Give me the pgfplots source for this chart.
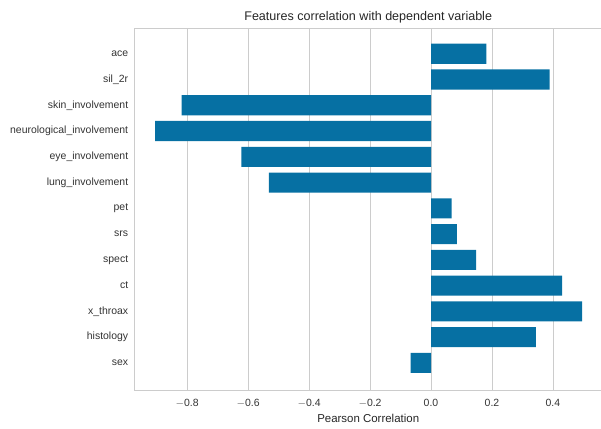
\documentclass[border=0pt]{standalone}
\usepackage{pgfplots}
\pgfplotsset{compat=1.18}
\usepackage{fontspec}
\setmainfont{Liberation Sans}
\definecolor{barblue}{RGB}{6,112,163}
\definecolor{gridgray}{RGB}{204,204,204}
\begin{document}
\begin{tikzpicture}[x=1bp,y=1bp]
\useasboundingbox (0,0) rectangle (601,428);
\begin{axis}[
  at={(134.7bp,400bp)}, anchor=north west,
  scale only axis,
  width=467bp, height=362.7bp,
  xbar, bar width=0.78, bar shift=0pt,
  xmin=-0.972, xmax=0.560,
  ymin=-1.08, ymax=13.0,
  axis line style={gridgray, line width=0.8bp},
  xmajorgrids, grid style={gridgray, line width=0.8bp},
  major tick length=0pt,
  xtick={-0.8,-0.6,-0.4,-0.2,0.0,0.2,0.4},
  xticklabels={$-$0.8,$-$0.6,$-$0.4,$-$0.2,0.0,0.2,0.4},
  ytick={0,...,12},
  yticklabels={sex,histology,x\_throax,ct,spect,srs,pet,lung\_involvement,eye\_involvement,neurological\_involvement,skin\_involvement,sil\_2r,ace},
  ticklabel style={font=\fontsize{10.5}{12}\selectfont, text=black!80},
  /pgf/number format/assume math mode=true,
  xticklabel style={yshift=-5bp},
  yticklabel style={xshift=-3bp},
  xlabel={Pearson Correlation},
  xlabel style={font=\fontsize{11.5}{13}\selectfont, text=black!85, yshift=0bp},
  title={Features correlation with dependent variable},
  title style={font=\fontsize{12.6}{14}\selectfont, text=black!85, yshift=-5bp},
  clip=false,
]
\addplot[fill=barblue, draw=none] coordinates {
  (-0.067,0) (0.344,1) (0.496,2) (0.430,3) (0.148,4) (0.085,5) (0.068,6)
  (-0.532,7) (-0.622,8) (-0.905,9) (-0.818,10) (0.389,11) (0.182,12)
};
\end{axis}
\end{tikzpicture}
\end{document}
